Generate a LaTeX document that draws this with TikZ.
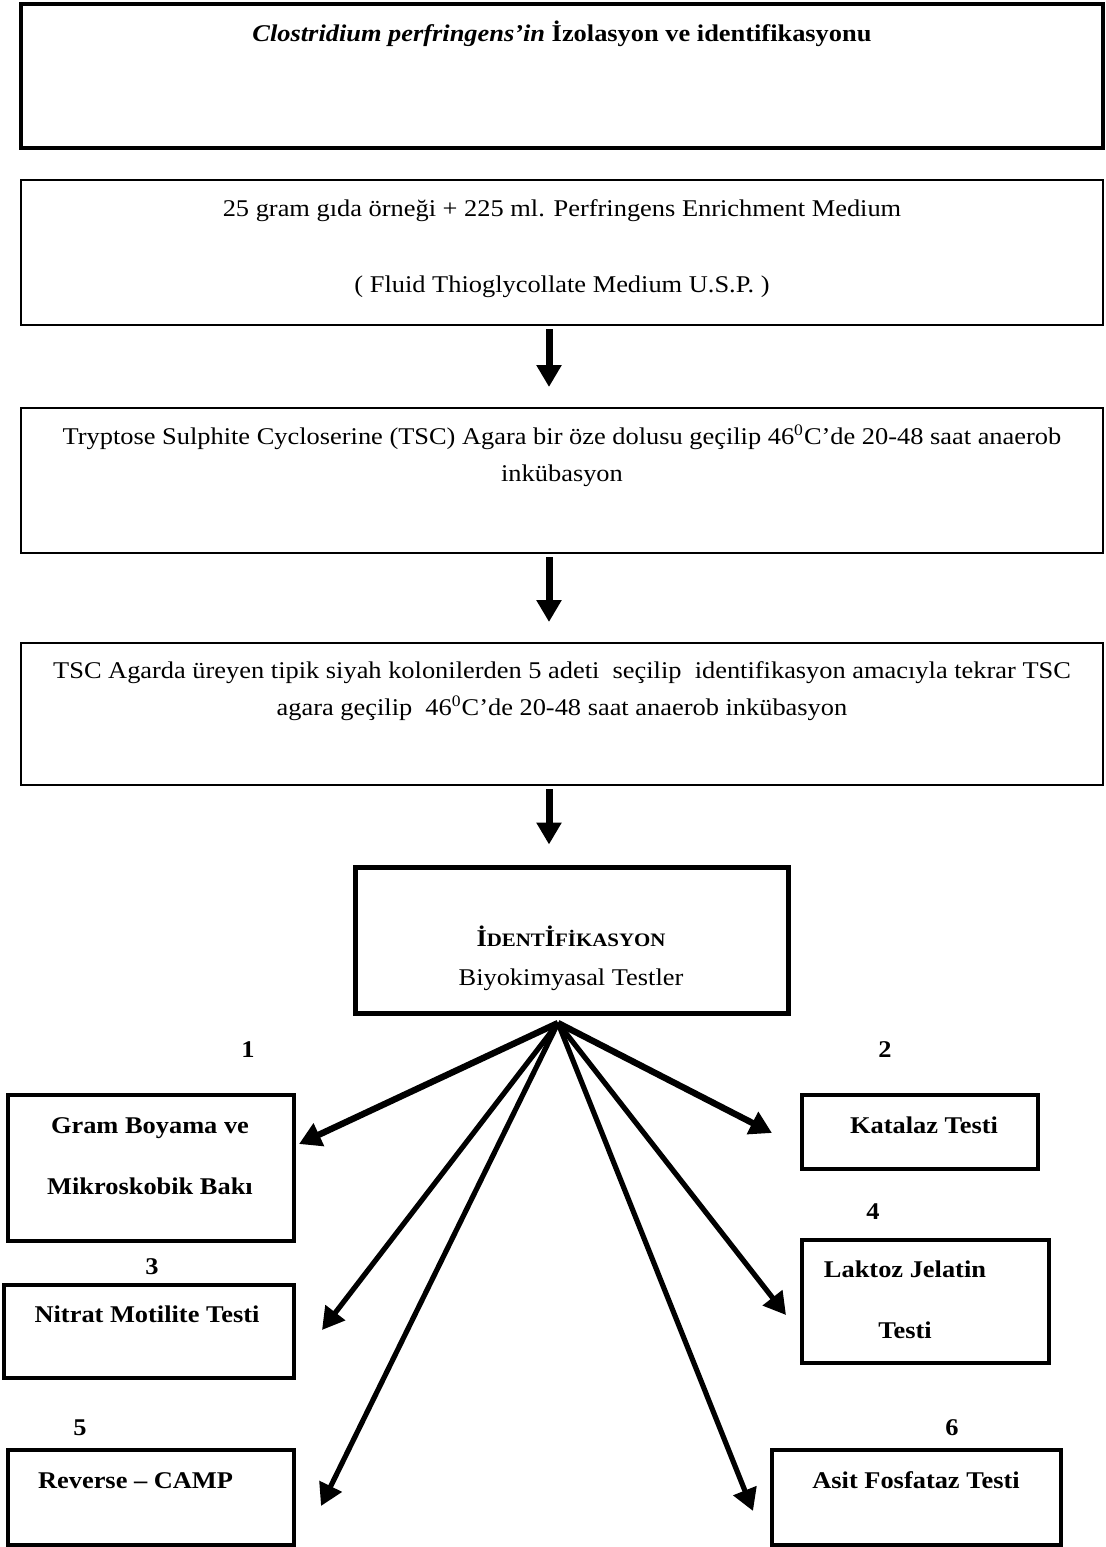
\documentclass[tikz,border=0pt]{standalone}
\usepackage{fontspec}
\setmainfont{Liberation Serif}[FakeStretch=1.1]
\usetikzlibrary{arrows.meta}

\newcommand{\smcaps}[1]{{\fontsize{9.5}{10}\selectfont #1}}

\begin{document}
\begin{tikzpicture}[x=0.5pt,y=-0.5pt,
    font=\fontsize{12}{18.5}\selectfont,
    >={Triangle[length=11pt,width=12pt]},
    box/.style={draw,line width=1pt,inner sep=0pt},
    testbox/.style={draw,line width=1.6pt,inner sep=0pt},
    boxtext/.style={anchor=base,align=center},
    testtext/.style={anchor=base,align=center,
        font=\fontsize{12}{18.5}\selectfont\bfseries},
    numlabel/.style={anchor=base,font=\fontsize{12}{14}\selectfont\bfseries},
    flowarrow/.style={->,line width=3.5pt,shorten <=1.5pt,shorten >=10pt},
    fanarrow/.style={->,line width=2.6pt}]
    \useasboundingbox (0,0) rectangle (1105,1547);

    \node[box,line width=2pt,minimum width=541pt,minimum height=72pt]
        (title) at (562,76) {};
    \node[boxtext,font=\fontsize{12}{14}\selectfont\bfseries]
        (title-text) at (562,41)
        {\textit{Clostridium perfringens’in} İzolasyon ve identifikasyonu};

    \node[box,minimum width=541pt,minimum height=72.5pt]
        (enrich) at (562,252.5) {};
    \node[boxtext] (enrich-text) at (562,292)
        {25 gram gıda örneği + 225 ml. Perfringens Enrichment Medium\\[19.5pt]
         ( Fluid Thioglycollate Medium U.S.P. )};

    \node[box,minimum width=541pt,minimum height=72.5pt]
        (tsc) at (562,480.5) {};
    \node[boxtext] (tsc-text) at (562,481)
        {Tryptose Sulphite Cycloserine (TSC) Agara bir öze dolusu geçilip
         46\textsuperscript{0}C’de 20-48 saat anaerob\\
         inkübasyon};

    \node[box,minimum width=541pt,minimum height=71pt]
        (colony) at (562,714) {};
    \node[boxtext] (colony-text) at (562,715)
        {TSC Agarda üreyen tipik siyah kolonilerden 5 adeti\ \ seçilip\ \
         identifikasyon amacıyla tekrar TSC\\
         agara geçilip\ \ 46\textsuperscript{0}C’de 20-48 saat anaerob inkübasyon};

    \node[box,line width=2.5pt,minimum width=216.5pt,minimum height=73pt]
        (ident) at (571.5,940) {};
    \node[boxtext] (ident-text) at (571,985)
        {\textbf{İ\smcaps{DENT}İ\smcaps{FİKASYON}}\\[1pt]
         Biyokimyasal Testler};

    \coordinate (spine) at (549,0);
    \draw[flowarrow] (enrich.south -| spine) -- (tsc.north -| spine);
    \draw[flowarrow] (tsc.south -| spine) -- (colony.north -| spine);
    \draw[flowarrow] (colony.south -| spine) -- (ident.north -| spine);

    \node[testbox,minimum width=143pt,minimum height=73pt]
        (gram) at (151,1168) {};
    \node[testtext] (gram-text) at (150,1194)
        {Gram Boyama ve\\[12pt]Mikroskobik Bakı};
    \node[testbox,minimum width=118pt,minimum height=37pt]
        (katalaz) at (920,1132) {};
    \node[testtext] (katalaz-text) at (924,1133) {Katalaz Testi};
    \node[testbox,minimum width=145pt,minimum height=46.5pt]
        (nitrat) at (149,1331.5) {};
    \node[testtext] (nitrat-text) at (147,1322) {Nitrat Motilite Testi};
    \node[testbox,minimum width=123.5pt,minimum height=61.5pt]
        (laktoz) at (925.5,1301.5) {};
    \node[testtext] (laktoz-text) at (905,1338)
        {Laktoz Jelatin\\[12pt]Testi};
    \node[testbox,minimum width=143pt,minimum height=47.5pt]
        (reverse) at (151,1497.5) {};
    \node[testtext,anchor=base west] (reverse-text) at (31,1488)
        {Reverse – CAMP};
    \node[testbox,minimum width=144.5pt,minimum height=47.5pt]
        (asit) at (916.5,1497.5) {};
    \node[testtext] (asit-text) at (916,1488) {Asit Fosfataz Testi};

    \node[numlabel] (num1) at (248,1057) {1};
    \node[numlabel] (num2) at (885,1057) {2};
    \node[numlabel] (num3) at (152,1274) {3};
    \node[numlabel] (num4) at (873,1219) {4};
    \node[numlabel] (num5) at (80,1435) {5};
    \node[numlabel] (num6) at (952,1435) {6};

    \coordinate (fan-root) at (558,1023);
    \coordinate (gram-tip) at (299,1144);
    \coordinate (katalaz-tip) at (772,1133);
    \coordinate (nitrat-tip) at (322,1330);
    \coordinate (laktoz-tip) at (786,1315);
    \coordinate (reverse-tip) at (321,1506);
    \coordinate (asit-tip) at (753,1511);
    \draw[fanarrow,line width=3.2pt] (fan-root) -- (gram-tip);
    \draw[fanarrow,line width=3.2pt] (fan-root) -- (katalaz-tip);
    \draw[fanarrow] (fan-root) -- (nitrat-tip);
    \draw[fanarrow] (fan-root) -- (laktoz-tip);
    \draw[fanarrow] (fan-root) -- (reverse-tip);
    \draw[fanarrow] (fan-root) -- (asit-tip);
\end{tikzpicture}
\end{document}
